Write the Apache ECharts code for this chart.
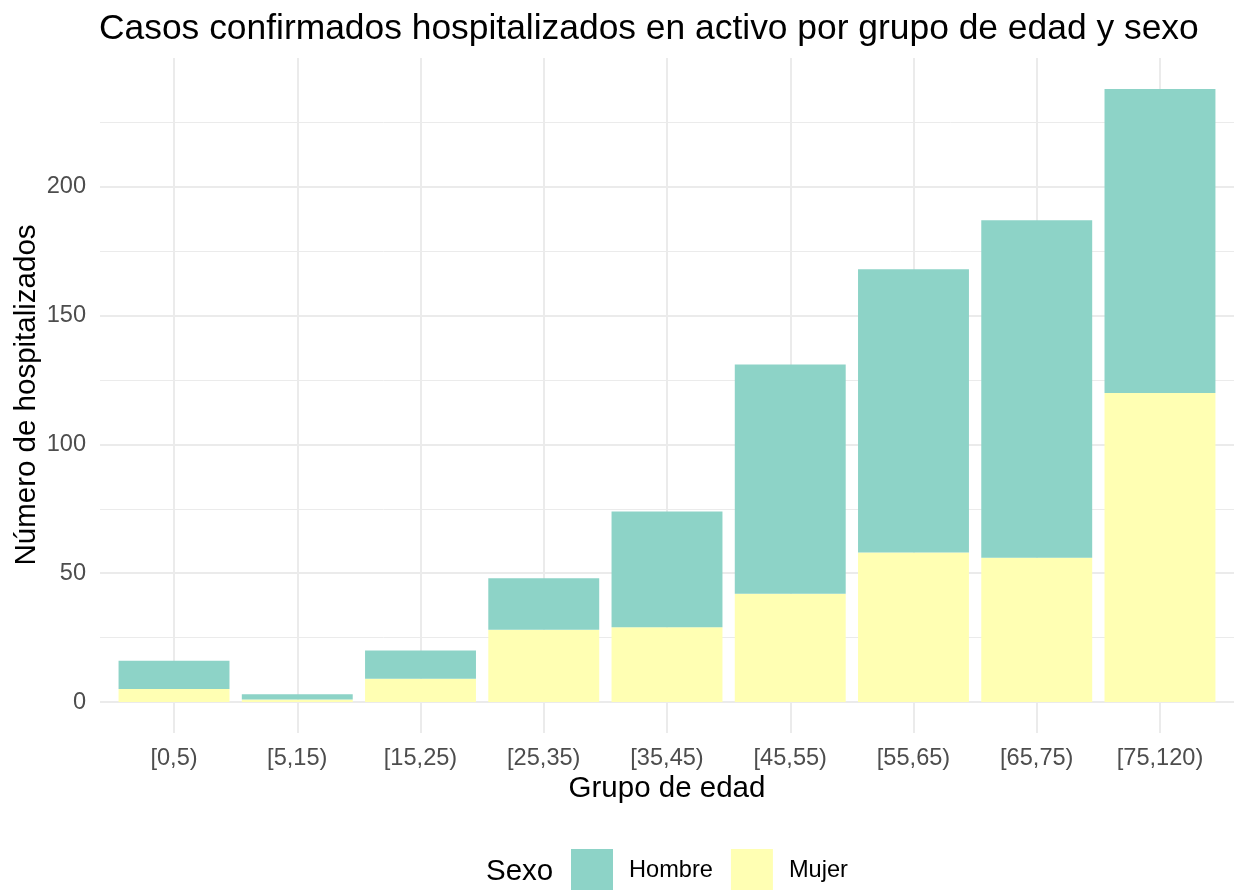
<!DOCTYPE html>
<html>
<head>
<meta charset="utf-8">
<script src="https://cdn.jsdelivr.net/npm/echarts@6/dist/echarts.min.js"></script>
<style>html,body{margin:0;padding:0;background:#fff}#c{width:1236px;height:890px}</style>
</head>
<body>
<div id="c"></div>
<script>
const categories = ['[0,5)', '[5,15)', '[15,25)', '[25,35)', '[35,45)', '[45,55)', '[55,65)', '[65,75)', '[75,120)'];
const mujer = [5, 1, 9, 28, 29, 42, 58, 56, 120];
const hombre = [11, 2, 11, 20, 45, 89, 110, 131, 118];
const yTicks = [0, 50, 100, 150, 200];

const FONT = '"Liberation Sans", Arial, sans-serif';
const chart = echarts.init(document.getElementById('c'), null, {renderer: 'canvas'});
const hidden = {show: false};
chart.setOption({
  animation: false,
  backgroundColor: '#ffffff',
  textStyle: {fontFamily: FONT},
  title: {
    text: 'Casos confirmados hospitalizados en activo por grupo de edad y sexo',
    left: 99, top: 9, padding: 0,
    textStyle: {fontFamily: FONT, fontSize: 35.4, fontWeight: 'normal', color: '#000', lineHeight: 40}
  },
  grid: [
    {left: 112.4, right: 14.4, top: 58, bottom: 188},
    {left: 100, right: 2, top: 58, bottom: 188},
    {left: 174, right: 76, top: 58, bottom: 157}
  ],
  xAxis: [
    {type: 'category', gridIndex: 0, data: categories, axisLine: hidden, axisTick: hidden, axisLabel: hidden, splitLine: hidden},
    {type: 'value', gridIndex: 1, min: 0, max: 1, axisLine: hidden, axisTick: hidden, axisLabel: hidden, splitLine: hidden},
    {type: 'category', gridIndex: 2, data: categories, boundaryGap: false,
      axisLine: hidden, axisTick: hidden,
      axisLabel: {interval: 0, margin: 13, color: '#4d4d4d', fontSize: 23.6, fontFamily: FONT},
      splitLine: {show: true, interval: 0, lineStyle: {color: '#ebebeb', width: 2}}}
  ],
  yAxis: [
    {type: 'value', gridIndex: 0, min: 0, max: 250, interval: 50, axisLine: hidden, axisTick: hidden, axisLabel: hidden, splitLine: hidden},
    {type: 'value', gridIndex: 1, min: 0, max: 250, interval: 50,
      axisLine: hidden, axisTick: hidden,
      axisLabel: {margin: 14, color: '#4d4d4d', fontSize: 23.6, fontFamily: FONT,
        formatter: v => (yTicks.indexOf(v) >= 0 ? String(v) : '')},
      splitLine: {show: true, showMaxLine: false, lineStyle: {color: '#ebebeb', width: 2}},
      minorTick: {show: false, splitNumber: 2},
      minorSplitLine: {show: true, lineStyle: {color: '#ebebeb', width: 1}}},
    {type: 'value', gridIndex: 2, min: 0, max: 1, axisLine: hidden, axisTick: hidden, axisLabel: hidden, splitLine: hidden}
  ],
  legend: {
    data: ['Hombre', 'Mujer'],
    left: 571, top: 849, padding: 0,
    orient: 'horizontal',
    itemWidth: 42, itemHeight: 42, itemGap: 18,
    icon: 'rect',
    selectedMode: false,
    textStyle: {fontFamily: FONT, fontSize: 23.6, color: '#000', padding: [0, 0, 0, 11]}
  },
  graphic: [
    {type: 'text', x: 667, y: 789, silent: true,
      style: {text: 'Grupo de edad', fontFamily: FONT, fontSize: 29.5, fill: '#000', align: 'center', verticalAlign: 'middle'}},
    {type: 'text', x: 27, y: 395, rotation: Math.PI / 2, silent: true,
      style: {text: 'Número de hospitalizados', fontFamily: FONT, fontSize: 29.5, fill: '#000', align: 'center', verticalAlign: 'middle'}},
    {type: 'text', x: 486, y: 872, silent: true,
      style: {text: 'Sexo', fontFamily: FONT, fontSize: 29.5, fill: '#000', align: 'left', verticalAlign: 'middle'}}
  ],
  series: [
    {name: 'Mujer', type: 'bar', stack: 'total', xAxisIndex: 0, yAxisIndex: 0, data: mujer,
      barCategoryGap: '10%', itemStyle: {color: '#ffffb3'}},
    {name: 'Hombre', type: 'bar', stack: 'total', xAxisIndex: 0, yAxisIndex: 0, data: hombre,
      barCategoryGap: '10%', itemStyle: {color: '#8dd3c7'}}
  ]
});
</script>
</body>
</html>
